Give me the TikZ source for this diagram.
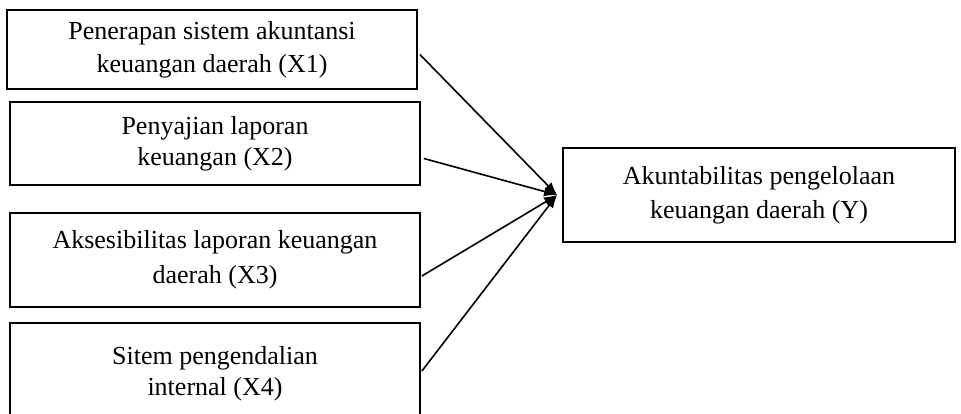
\documentclass[tikz,border=0pt]{standalone}
\usepackage{fontspec}
\setmainfont{Liberation Serif}
\usetikzlibrary{arrows.meta}
\begin{document}
\begin{tikzpicture}[x=1pt,y=-1pt,
  box/.style={draw, line width=1.8pt, align=center, inner sep=0pt,
    font=\fontsize{26}{31}\selectfont},
  link/.style={line width=1.6pt, -{Latex[length=13pt,width=10pt]}}]
\useasboundingbox (0,0) rectangle (961,413);
\clip (0,0) rectangle (961,413);
\node[box, minimum width=410pt, minimum height=79pt] (x1) at (212,49.5)
  {Penerapan sistem akuntansi\\[2pt]keuangan daerah (X1)};
\node[box, minimum width=410pt, minimum height=83pt] (x2) at (215,143.5)
  {Penyajian laporan\\keuangan (X2)};
\node[box, minimum width=410pt, minimum height=94pt] (x3) at (215,260)
  {Aksesibilitas laporan keuangan\\[4pt]daerah (X3)};
\node[box, minimum width=410pt, minimum height=102pt] (x4) at (215,374)
  {Sitem pengendalian\\internal (X4)};
\node[box, minimum width=392pt, minimum height=94pt] (yv) at (759,195)
  {Akuntabilitas pengelolaan\\[3pt]keuangan daerah (Y)};
\coordinate (tip) at ([xshift=-5pt]yv.west);
\draw[link] ([shift={(2,5)}]x1.east) -- (tip);
\draw[link] ([shift={(3,15)}]x2.east) -- (tip);
\draw[link] ([shift={(1,16)}]x3.east) -- (tip);
\draw[link] ([shift={(1,-3)}]x4.east) -- (tip);
\end{tikzpicture}
\end{document}
